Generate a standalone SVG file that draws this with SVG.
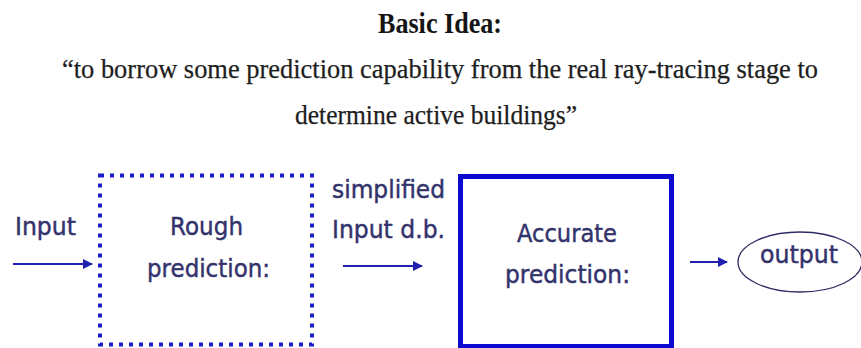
<svg xmlns="http://www.w3.org/2000/svg" width="861" height="348" viewBox="0 0 861 348">
  <defs>
    <style>
      .title { font-family: "Liberation Serif", "Times New Roman", serif; font-weight: bold; fill: #151515; }
      .quote { font-family: "Liberation Serif", "Times New Roman", serif; fill: #1e1e1e; stroke: #1e1e1e; stroke-width: 0.25; }
      .label { font-family: "DejaVu Sans", "Noto Sans", sans-serif; fill: #33336c; stroke: #33336c; stroke-width: 0.45; }
      .conn { stroke: #2020b0; stroke-width: 2; fill: none; }
    </style>
    <marker id="arrow" viewBox="0 0 10 10" refX="9" refY="5" markerWidth="5" markerHeight="5" orient="auto" markerUnits="strokeWidth">
      <path d="M0,0 L10,5 L0,10 Z" fill="#2020b0"/>
    </marker>
  </defs>

  <rect width="861" height="348" fill="#ffffff"/>

  <!-- heading -->
  <text class="title" x="378" y="33" font-size="29" textLength="124" lengthAdjust="spacingAndGlyphs">Basic Idea:</text>
  <text class="quote" x="62" y="78" font-size="26.5" textLength="756" lengthAdjust="spacingAndGlyphs">“to borrow some prediction capability from the real ray-tracing stage to</text>
  <text class="quote" x="295" y="124" font-size="26.5" textLength="282" lengthAdjust="spacingAndGlyphs">determine active buildings”</text>

  <!-- connectors -->
  <g id="connectors">
    <line class="conn" x1="13" y1="264" x2="92" y2="264" marker-end="url(#arrow)"/>
    <line class="conn" x1="343" y1="266" x2="422" y2="266" marker-end="url(#arrow)"/>
    <line class="conn" x1="690" y1="262" x2="727" y2="262" marker-end="url(#arrow)"/>
  </g>

  <text class="label" x="15" y="235" font-size="24" textLength="61" lengthAdjust="spacingAndGlyphs">Input</text>
  <g id="edge-label">
    <text class="label" x="332" y="198" font-size="24" textLength="113" lengthAdjust="spacingAndGlyphs">simplified</text>
    <text class="label" x="332" y="238" font-size="24" textLength="113" lengthAdjust="spacingAndGlyphs">Input d.b.</text>
  </g>

  <!-- rough stage -->
  <g id="rough">
    <rect x="100" y="175.5" width="212" height="169" fill="none" stroke="#1c1cc8" stroke-width="4" stroke-dasharray="4 6"/>
    <text class="label" x="170" y="235" font-size="24" textLength="73" lengthAdjust="spacingAndGlyphs">Rough</text>
    <text class="label" x="147" y="277" font-size="24" textLength="123" lengthAdjust="spacingAndGlyphs">prediction:</text>
  </g>

  <!-- accurate stage -->
  <g id="accurate">
    <rect x="460.5" y="176.5" width="211" height="170" fill="none" stroke="#0a0ad0" stroke-width="5"/>
    <text class="label" x="517" y="242" font-size="24" textLength="100" lengthAdjust="spacingAndGlyphs">Accurate</text>
    <text class="label" x="505" y="283" font-size="24" textLength="125" lengthAdjust="spacingAndGlyphs">prediction:</text>
  </g>

  <!-- result -->
  <g id="output">
    <ellipse cx="800" cy="262" rx="62" ry="30" fill="none" stroke="#2c2c66" stroke-width="1.3"/>
    <text class="label" x="760" y="263" font-size="24" textLength="78" lengthAdjust="spacingAndGlyphs">output</text>
  </g>
</svg>
